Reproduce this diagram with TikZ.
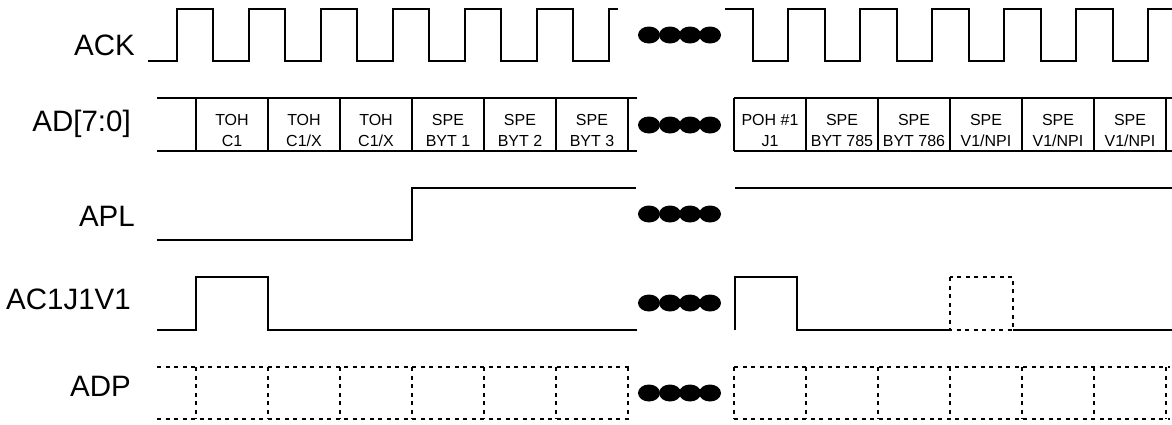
\documentclass[tikz,border=0pt]{standalone}
\usepackage{fontspec}
\setmainfont{Liberation Sans}
\tikzset{
  sig/.style={line width=2.2pt, line join=miter},
  dotline/.style={line width=2.4pt, dash pattern=on 4pt off 4.5pt},
  lbl/.style={anchor=east, font=\fontsize{29.5}{31}\selectfont, inner sep=0pt},
  cell/.style={font=\fontsize{16}{21}\selectfont, align=center, inner sep=0pt},
  blob/.style={fill=black}
}
\begin{document}
\begin{tikzpicture}[x=1pt,y=-1pt]
\useasboundingbox (0,0) rectangle (1172,424);
% labels
\node[lbl] (lack) at (135,45) {ACK};
\node[lbl] (lad)  at (131,124) {AD[7:0]};
\node[lbl] (lapl) at (135,216) {APL};
\node[lbl] (lac)  at (131,299) {AC1J1V1};
\node[lbl] (ladp) at (131,386) {ADP};
% ACK
\draw[sig] (148,61) foreach \k in {0,...,5} { -- ({177+72*\k},61) -- ({177+72*\k},9) -- ({213+72*\k},9) -- ({213+72*\k},61) } -- (609,61) -- (609,9) -- (618,9);
\draw[sig] (725,9) foreach \k in {0,...,5} { -- ({753+72*\k},9) -- ({753+72*\k},61) -- ({788+72*\k},61) -- ({788+72*\k},9) } -- (1172,9);
% AD[7:0]
\draw[sig] (157,98) -- (637,98) (157,151) -- (637,151);
\foreach \k in {0,...,6} { \draw[sig] ({196+72*\k},98) -- ({196+72*\k},151); }
\draw[sig] (734,98) -- (1172,98) (734,151) -- (1172,151);
\foreach \k in {0,...,6} { \draw[sig] ({734+72*\k},98) -- ({734+72*\k},151); }
\node[cell] (a1) at (232,130.5) {TOH\\C1};
\node[cell] (a2) at (304,130.5) {TOH\\C1/X};
\node[cell] (a3) at (376,130.5) {TOH\\C1/X};
\node[cell] (a4) at (448,130.5) {SPE\\BYT 1};
\node[cell] (a5) at (520,130.5) {SPE\\BYT 2};
\node[cell] (a6) at (592,130.5) {SPE\\BYT 3};
\node[cell] (b1) at (770,130.5) {POH \#1\\J1};
\node[cell] (b2) at (842,130.5) {SPE\\BYT 785};
\node[cell] (b3) at (914,130.5) {SPE\\BYT 786};
\node[cell] (b4) at (986,130.5) {SPE\\V1/NPI};
\node[cell] (b5) at (1058,130.5) {SPE\\V1/NPI};
\node[cell] (b6) at (1130,130.5) {SPE\\V1/NPI};
% APL
\draw[sig] (157,240) -- (412,240) -- (412,188) -- (636,188);
\draw[sig] (735,188) -- (1172,188);
% AC1J1V1
\draw[sig] (157,330) -- (196,330) -- (196,277) -- (268,277) -- (268,330) -- (637,330);
\draw[sig] (735,330) -- (735,277) -- (797,277) -- (797,330) -- (950,330);
\draw[dotline] (950,277) rectangle (1013,330);
\draw[sig] (1013,330) -- (1172,330);
% ADP
\draw[dotline] (157,367) -- (630,367) (157,419) -- (630,419);
\foreach \k in {0,...,6} { \draw[dotline] ({196+72*\k},367) -- ({196+72*\k},419); }
\draw[dotline] (734,367) -- (1170,367) (734,419) -- (1170,419);
\foreach \k in {0,...,6} { \draw[dotline] ({734+72*\k},367) -- ({734+72*\k},419); }
% ellipsis blobs
\foreach \yy in {35,125,214,303,393} {
  \foreach \xx in {649,670,690,710} {
    \fill[blob] (\xx,\yy) ellipse [x radius=11pt, y radius=8.5pt];
  }
}
\end{tikzpicture}
\end{document}
